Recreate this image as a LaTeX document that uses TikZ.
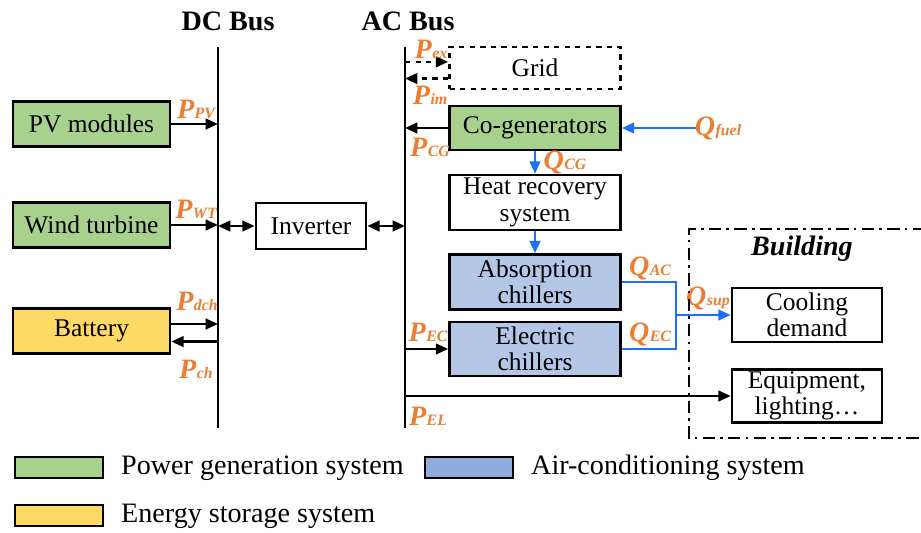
\documentclass[tikz,border=0pt]{standalone}
\usepackage{fontspec}
\setmainfont{Liberation Serif}
\usetikzlibrary{arrows.meta}
\definecolor{genGreen}{HTML}{A9D18E}
\definecolor{acBlue}{HTML}{B4C7E7}
\definecolor{acLegend}{HTML}{8FAADC}
\definecolor{storYellow}{HTML}{FFD966}
\definecolor{flowOrange}{HTML}{ED7D31}
\definecolor{heatBlue}{HTML}{1F6FFF}
\newcommand{\flowlbl}[2]{#1\kern0.3pt{\fontsize{9}{10}\selectfont #2}}
\begin{document}
\begin{tikzpicture}[
    x=0.02cm,y=-0.02cm,
    line join=miter,
    unit/.style={draw=black,line width=1.5pt,minimum width=3.14cm,minimum height=0.9cm,
        inner sep=1pt,align=center,font=\fontsize{14.5}{15}\selectfont},
    acunit/.style={unit,minimum width=3.42cm},
    legendbox/.style={draw=black,line width=0.6pt,minimum width=1.76cm,minimum height=0.42cm,inner sep=0pt},
    flow/.style={text=flowOrange,font=\fontsize{16}{18}\selectfont\bfseries\itshape,inner sep=0pt},
    bus/.style={line width=1.4pt},
    power/.style={line width=1.4pt,-{Triangle[length=7pt,width=6pt]}},
    heat/.style={line width=1.3pt,draw=heatBlue,-{Triangle[length=7pt,width=6pt]}},
    title/.style={font=\fontsize{16}{18}\selectfont\bfseries,inner sep=0pt}
]
    \useasboundingbox (0,0) rectangle (921,532);
    % buses
    \node[title] (dclabel) at (228,21) {DC Bus};
    \node[title] (aclabel) at (408,21) {AC Bus};
    \coordinate (dctop) at (218,47);
    \coordinate (dcbot) at (218,428);
    \coordinate (actop) at (405,47);
    \coordinate (acbot) at (405,428);
    \draw[bus] (dctop) -- (dcbot);
    \draw[bus] (actop) -- (acbot);
    % DC side
    \node[unit,fill=genGreen] (pv) at (91.5,124) {PV modules};
    \node[unit,fill=genGreen] (wt) at (91.5,225) {Wind turbine};
    \node[unit,fill=storYellow] (bat) at (91.5,331) {Battery};
    \node[unit,minimum width=2.2cm,minimum height=0.92cm] (inv) at (311,226) {Inverter};
    \draw[power] (pv) -- (pv -| dctop);
    \draw[power] (wt) -- (wt -| dctop);
    \draw[power] ([yshift=4pt]bat.east) -- ([yshift=4pt]bat.east -| dctop);
    \draw[power] ([yshift=-6pt]bat.east -| dctop) -- ([yshift=-6pt]bat.east);
    \draw[power,{Triangle[length=7pt,width=6pt]}-{Triangle[length=7pt,width=6pt]}] (inv.west -| dctop) -- (inv.west);
    \draw[power,{Triangle[length=7pt,width=6pt]}-{Triangle[length=7pt,width=6pt]}] (inv.east) -- (inv.east -| actop);
    \node[flow] (ppv) at (196,109) {\flowlbl{P}{PV}};
    \node[flow] (pwt) at (196,209) {\flowlbl{P}{WT}};
    \node[flow] (pdch) at (197,301) {\flowlbl{P}{dch}};
    \node[flow] (pch) at (196,369) {\flowlbl{P}{ch}};
    % AC side
    \node[acunit,dashed,minimum height=0.84cm] (grid) at (535,68) {Grid};
    \node[acunit,fill=genGreen,minimum height=0.88cm] (cg) at (535,128) {Co-generators};
    \node[acunit,minimum height=1.1cm] (hr) at (535,202.5) {Heat recovery\\system};
    \node[acunit,fill=acBlue,minimum height=1.1cm] (ach) at (535,282) {Absorption\\chillers};
    \node[acunit,fill=acBlue,minimum height=1.08cm] (ech) at (535,349) {Electric\\chillers};
    \draw[power,dashed] ([yshift=3.5pt]grid.west -| actop) -- ([yshift=3.5pt]grid.west);
    \draw[power,dashed] ([yshift=-6pt]grid.west) -- ([yshift=-6pt]grid.west -| actop);
    \draw[power] (cg) -- (cg -| actop);
    \draw[power] (ech -| actop) -- (ech);
    \node[flow] (pex) at (431,49) {\flowlbl{P}{ex}};
    \node[flow] (pim) at (430,95) {\flowlbl{P}{im}};
    \node[flow] (pcg) at (430,147) {\flowlbl{P}{CG}};
    \node[flow] (pec) at (428,332) {\flowlbl{P}{EC}};
    \node[flow] (pel) at (428,416) {\flowlbl{P}{EL}};
    % heat and cooling flows
    \coordinate (fuel) at (700,128);
    \coordinate (mix) at (676,315);
    \draw[heat] (fuel) -- (cg);
    \draw[heat] (cg) -- (hr);
    \draw[heat] (hr) -- (ach);
    \draw[line width=1.3pt,draw=heatBlue] (ach.east) -| (mix) |- (ech.east);
    \node[flow] (qfuel) at (718,128) {\flowlbl{Q}{fuel}};
    \node[flow] (qcg) at (565,162) {\flowlbl{Q}{CG}};
    \node[flow] (qac) at (650,268) {\flowlbl{Q}{AC}};
    \node[flow] (qec) at (650,334) {\flowlbl{Q}{EC}};
    \node[flow] (qsup) at (708,298) {\flowlbl{Q}{sup}};
    % building
    \draw[line width=1.1pt,dash pattern=on 7pt off 3pt on 1.5pt off 3pt] (925,229) -- (689,229) -- (689,438) -- (925,438);
    \node[font=\fontsize{16}{18}\selectfont\bfseries\itshape] (bld) at (802,249) {Building};
    \node[unit,minimum width=3cm,minimum height=1.08cm] (cool) at (807,315) {Cooling\\demand};
    \node[unit,minimum width=3cm,minimum height=1.06cm] (equip) at (807,396) {Equipment,\\lighting\dots};
    \draw[heat] (mix) -- (cool);
    \draw[power] (equip.west -| actop) -- (equip.west);
    % legend
    \node[legendbox,fill=genGreen] (lgen) at (59,467.5) {};
    \node[legendbox,fill=acLegend] (lac) at (469,467.5) {};
    \node[legendbox,fill=storYellow] (lsto) at (59,515.5) {};
    \node[anchor=west,font=\fontsize{16}{18}\selectfont] at (115,468) {Power generation system};
    \node[anchor=west,font=\fontsize{16}{18}\selectfont] at (525,468) {Air-conditioning system};
    \node[anchor=west,font=\fontsize{16}{18}\selectfont] at (115,516) {Energy storage system};
\end{tikzpicture}
\end{document}
